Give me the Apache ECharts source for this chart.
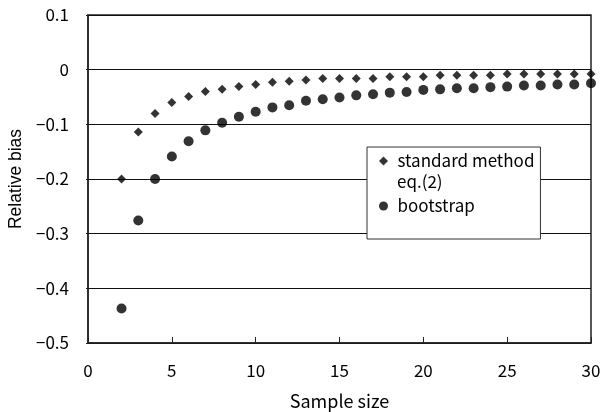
<!DOCTYPE html>
<html>
<head>
<meta charset="utf-8">
<script src="https://cdn.jsdelivr.net/npm/echarts@6/dist/echarts.min.js"></script>
<style>
  html, body { margin: 0; padding: 0; background: #fff; }
  #chart { width: 600px; height: 412px; }
</style>
</head>
<body>
<div id="chart"></div>
<script>
// Relative bias vs sample size.
const sampleSizes = [2, 3, 4, 5, 6, 7, 8, 9, 10, 11, 12, 13, 14, 15, 16, 17, 18, 19, 20,
  21, 22, 23, 24, 25, 26, 27, 28, 29, 30];
const standardBias = [-0.200, -0.114, -0.080, -0.060, -0.049, -0.040, -0.036, -0.031, -0.027,
  -0.023, -0.021, -0.019, -0.016, -0.016, -0.016, -0.016, -0.013, -0.013, -0.013,
  -0.010, -0.010, -0.010, -0.010, -0.008, -0.008, -0.008, -0.008, -0.008, -0.008];
const bootstrapBias = [-0.437, -0.276, -0.200, -0.159, -0.131, -0.111, -0.097, -0.086, -0.077,
  -0.069, -0.065, -0.057, -0.054, -0.051, -0.047, -0.045, -0.042, -0.041, -0.037,
  -0.036, -0.034, -0.034, -0.032, -0.031, -0.029, -0.029, -0.027, -0.027, -0.025];

const FONT = '"Noto Sans CJK JP", "DejaVu Sans", sans-serif';
const INK = '#000';
const DIAMOND = 'path://M5,0L10,5L5,10L0,5Z';  // path icon so the legend keeps it square
const pairs = (ys) => sampleSizes.map((x, i) => [x, ys[i]]);
const minus = (v) => String(Math.round(v * 10) / 10).replace('-', '\u2212');

const chart = echarts.init(document.getElementById('chart'), null, { renderer: 'canvas' });
chart.setOption({
  animation: false,
  backgroundColor: '#fff',
  grid: { left: 88, right: 9, top: 15, bottom: 69, outerBoundsMode: 'none',
    show: true, borderColor: '#222', borderWidth: 1.5 },
  // legend entry names are single line; the "eq.(2)" continuation line is a graphic text below
  legend: {
    orient: 'vertical', left: 367, top: 147,
    backgroundColor: '#fff', borderColor: '#333', borderWidth: 1,
    padding: [3, 6, 22, 12], itemGap: 23, itemWidth: 18, itemHeight: 9, symbolKeepAspect: true,
    textStyle: { fontFamily: FONT, fontSize: 17, color: INK, lineHeight: 22 },
    data: [{ name: 'standard method', icon: DIAMOND }, { name: 'bootstrap', icon: 'circle' }],
  },
  graphic: [{
    type: 'text', left: 397, top: 173, z: 100,
    style: { text: 'eq.(2)', fontFamily: FONT, fontSize: 17, fill: INK },
  }],
  xAxis: {
    type: 'value', min: 0, max: 30, interval: 5,
    name: 'Sample size', nameLocation: 'middle', nameGap: 49,
    nameTextStyle: { fontFamily: FONT, fontSize: 18, color: INK },
    axisLine: { onZero: false, lineStyle: { color: '#222', width: 1.5 } },
    axisTick: { inside: true, length: 6, lineStyle: { color: '#222' } },
    axisLabel: { fontFamily: FONT, fontSize: 17, color: INK, margin: 19 },
    splitLine: { show: false },
  },
  yAxis: {
    type: 'value', min: -0.5, max: 0.1, interval: 0.1,
    name: 'Relative bias', nameLocation: 'middle', nameGap: 61, nameRotate: 90,
    nameTextStyle: { fontFamily: '"Liberation Sans", Arial, sans-serif', fontSize: 17.5, color: INK },
    axisLine: { onZero: false, lineStyle: { color: '#222', width: 1.5 } },
    axisTick: { inside: false, length: 2, lineStyle: { color: '#222' } },
    axisLabel: { fontFamily: FONT, fontSize: 17, color: INK, margin: 19, formatter: minus },
    splitLine: { lineStyle: { color: '#111', width: 1 } },
  },
  series: [
    { name: 'standard method', type: 'scatter', symbol: 'diamond', symbolSize: 9,
      itemStyle: { color: INK }, data: pairs(standardBias) },
    { name: 'bootstrap', type: 'scatter', symbol: 'circle', symbolSize: 10,
      itemStyle: { color: INK }, data: pairs(bootstrapBias) },
  ],
});
</script>
</body>
</html>
